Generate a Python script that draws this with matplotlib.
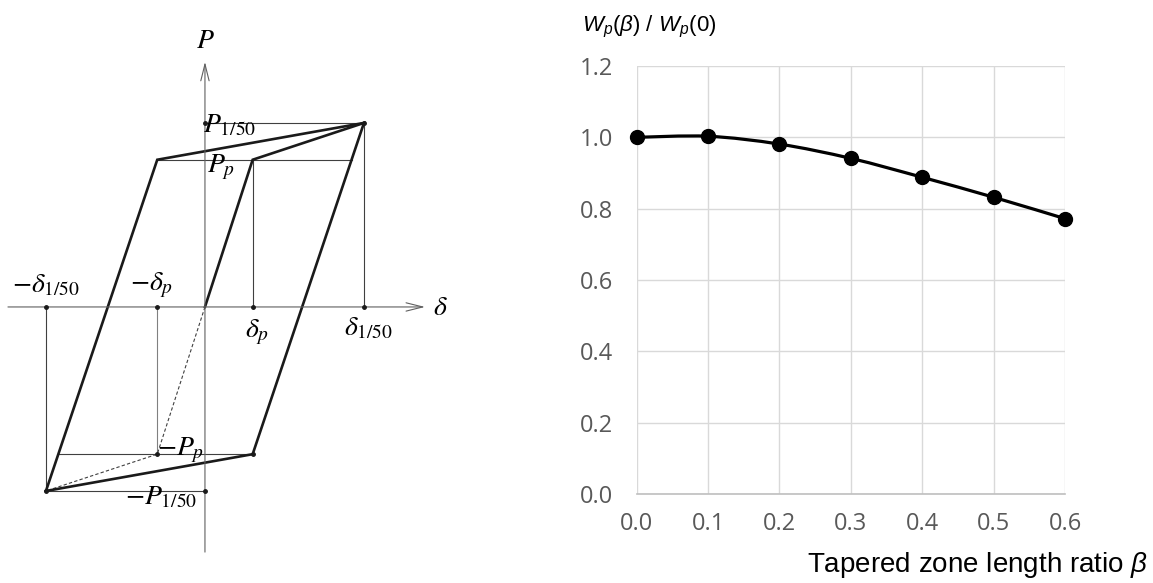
import matplotlib.pyplot as plt
from matplotlib.path import Path
from matplotlib.patches import PathPatch

# ---- data ----
# left: schematic hysteresis loop (normalised)
d_p = 0.30      # delta_p
d_y = 1.00      # delta_1/50
P_p = 0.80      # P_p
P_y = 1.00      # P_1/50

# right: W_p(beta) / W_p(0)
beta = [0.0, 0.1, 0.2, 0.3, 0.4, 0.5, 0.6]
wp_ratio = [1.000, 1.003, 0.981, 0.941, 0.888, 0.832, 0.772]
yticks = [0.0, 0.2, 0.4, 0.6, 0.8, 1.0, 1.2]
xticks = [0.0, 0.1, 0.2, 0.3, 0.4, 0.5, 0.6]

W, H = 1153, 583
fig = plt.figure(figsize=(W / 100, H / 100), dpi=100)

# ---------------- left panel ----------------
ax = fig.add_axes([0, 0, 460 / W, 1])
ax.set_xlim(-1.289, 1.604)
ax.set_ylim(-1.50, 1.668)
ax.axis('off')

thin = dict(color='#404040', lw=0.8)
thick = dict(color='#1a1a1a', lw=1.9, solid_joinstyle='miter')

# axes with open arrows
ax.annotate('', xy=(1.384, 0), xytext=(-1.239, 0),
            arrowprops=dict(arrowstyle='->,head_length=1.2,head_width=0.3',
                            color='#606060', lw=0.8, shrinkA=0, shrinkB=0))
ax.annotate('', xy=(0, 1.332), xytext=(0, -1.332),
            arrowprops=dict(arrowstyle='->,head_length=1.2,head_width=0.3',
                            color='#606060', lw=0.8, shrinkA=0, shrinkB=0))

# where the outer loop branches cross the +-P_p levels
x_right_at_Pp = d_p + (d_y - d_p) * (P_p + P_p) / (P_y + P_p)
x_left_at_mPp = -x_right_at_Pp

# guide lines
ax.plot([0, d_y], [P_y, P_y], **thin)
ax.plot([-d_p, x_right_at_Pp], [P_p, P_p], **thin)
ax.plot([d_p, d_p], [0, P_p], **thin)
ax.plot([d_y, d_y], [0, P_y], **thin)
ax.plot([-d_y, -d_y], [0, -P_y], **thin)
ax.plot([-d_p, -d_p], [0, -P_p], color='#808080', lw=0.8)
ax.plot([x_left_at_mPp, d_p], [-P_p, -P_p], **thin)
ax.plot([-d_y, 0], [-P_y, -P_y], **thin)

# dashed virgin branch (negative side)
ax.plot([0, -d_p, -d_y], [0, -P_p, -P_y], color='#404040', lw=0.8, ls=(0, (3, 2)))

# outer loop
ax.plot([-d_y, -d_p, d_y, d_p, -d_y], [-P_y, P_p, P_y, -P_p, -P_y], **thick)
# inner branch
ax.plot([0, d_p, d_y], [0, P_p, P_y], **thick)

# small dots
dots_x = [0, d_y, d_p, d_y, -d_p, -d_y, -d_p, 0, -d_y, d_p]
dots_y = [P_y, P_y, 0, 0, 0, 0, -P_p, -P_y, -P_y, -P_p]
ax.plot(dots_x, dots_y, 'o', color='#1a1a1a', ms=2.5, zorder=5)

lab = dict(fontsize=20, math_fontfamily='stix', color='black')
ax.text(0, 1.45, r'$P$', ha='center', va='center', **lab)
ax.text(-0.015, 0.99, r'$P_{\mathrm{1/50}}$', ha='left', va='center', **lab)
ax.text(0.01, 0.76, r'$P_p$', ha='left', va='center', **lab)
ax.text(-1.215, 0.12, r'$-\delta_{\mathrm{1/50}}$', ha='left', va='center', **lab)
ax.text(-0.47, 0.12, r'$-\delta_p$', ha='left', va='center', **lab)
ax.text(d_p + 0.03, -0.14, r'$\delta_p$', ha='center', va='center', **lab)
ax.text(d_y + 0.03, -0.11, r'$\delta_{\mathrm{1/50}}$', ha='center', va='center', **lab)
ax.text(1.48, 0.0, r'$\delta$', ha='center', va='center', **lab)
ax.text(-0.30, -0.78, r'$-P_p$', ha='left', va='center', **lab)
ax.text(-0.50, -1.03, r'$-P_{\mathrm{1/50}}$', ha='left', va='center', **lab)

# ---------------- right panel ----------------
plt.rcParams['mathtext.fontset'] = 'custom'
plt.rcParams['mathtext.rm'] = 'Liberation Sans'
plt.rcParams['mathtext.it'] = 'Liberation Sans:italic'

left, right, top, bottom = 636.7, 1065.0, 66.0, 494.0
ax2 = fig.add_axes([left / W, (H - bottom) / H, (right - left) / W, (bottom - top) / H])
ax2.set_xlim(0, 0.6)
ax2.set_ylim(0, 1.2)
ax2.set_xticks(xticks)
ax2.set_yticks(yticks)
ax2.set_xticklabels([f'{v:.1f}' for v in xticks])
ax2.set_yticklabels([f'{v:.1f}' for v in yticks])
ax2.grid(True, color='#d9d9d9', lw=1.0)
ax2.set_axisbelow(True)
for s in ['top', 'right', 'left']:
    ax2.spines[s].set_visible(False)
ax2.spines['bottom'].set_color('#bfbfbf')
ax2.spines['bottom'].set_linewidth(1.2)
ax2.tick_params(length=0, labelsize=17, labelcolor='#595959')
ax2.tick_params(axis='y', pad=17)
ax2.tick_params(axis='x', pad=13)
for t in ax2.get_xticklabels() + ax2.get_yticklabels():
    t.set_fontfamily('Open Sans')

# smoothed line through the points (Bezier, like a spreadsheet "smooth line")
n = len(beta)
verts = [(beta[0], wp_ratio[0])]
codes = [Path.MOVETO]
for i in range(n - 1):
    x0, y0 = beta[max(i - 1, 0)], wp_ratio[max(i - 1, 0)]
    x1, y1 = beta[i], wp_ratio[i]
    x2, y2 = beta[i + 1], wp_ratio[i + 1]
    x3, y3 = beta[min(i + 2, n - 1)], wp_ratio[min(i + 2, n - 1)]
    verts += [(x1 + (x2 - x0) / 6, y1 + (y2 - y0) / 6),
              (x2 - (x3 - x1) / 6, y2 - (y3 - y1) / 6),
              (x2, y2)]
    codes += [Path.CURVE4] * 3
ax2.add_patch(PathPatch(Path(verts, codes), fill=False, edgecolor='black',
                        lw=2.3, clip_on=False, zorder=3))
ax2.plot(beta, wp_ratio, 'o', color='black', ms=10, clip_on=False, zorder=4)

fig.text(582 / W, 1 - 27 / H, r'$W_p(\beta)$ / $W_p(0)$', fontsize=16,
         family='Liberation Sans', ha='left', va='center')
fig.text(1148 / W, 1 - 565 / H, r'Tapered zone length ratio $\beta$', fontsize=20,
         family='Liberation Sans', ha='right', va='center')

fig.savefig('out.png', dpi=100)
